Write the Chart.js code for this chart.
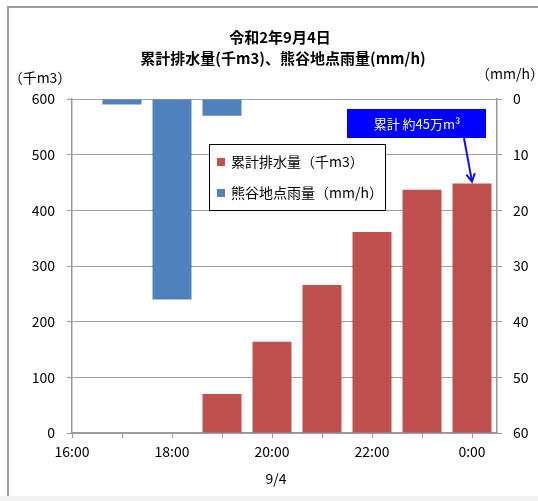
<!DOCTYPE html>
<html>
<head>
<meta charset="utf-8">
<script src="https://cdn.jsdelivr.net/npm/chart.js@4/dist/chart.umd.min.js"></script>
<style>
  html, body { margin: 0; padding: 0; background: #fff; }
  canvas { display: block; }
</style>
</head>
<body>
<canvas id="c" width="538" height="501"></canvas>
<script>
// Hours of 2020-09-04 (24 = midnight)
const hours = [16, 17, 18, 19, 20, 21, 22, 23, 24];
// Cumulative pumped drainage (thousand m3)
const drainage = [null, null, null, 70, 164, 266, 361, 437, 448];
// Hourly rainfall at Kumagaya (mm/h)
const rainfall = [0, 1, 36, 3, 0, 0, 0, 0, 0];

const titleLines = ['令和2年9月4日', '累計排水量(千m3)、熊谷地点雨量(mm/h)'];
const leftUnit = '（千m3）';
const rightUnit = '（mm/h）';
const dateLabel = '9/4';
const calloutText = '累計 約45万m³';

const RED = '#C0504D';
const BLUE = '#4F81BD';
const FONT = "'Noto Sans CJK JP', 'Liberation Sans', sans-serif";
Chart.defaults.font.family = FONT;
Chart.defaults.color = '#000';

const hourLabel = v => (v % 2 === 0 ? (v % 24) + ':00' : '');

const decor = {
  id: 'decor',
  beforeDraw(chart) {
    const ctx = chart.ctx;
    ctx.save();
    ctx.fillStyle = '#fff';
    ctx.fillRect(0, 0, chart.width, chart.height);
    ctx.fillStyle = '#f3f3f3';
    ctx.fillRect(0, 496, chart.width, chart.height - 496);
    ctx.strokeStyle = '#9a9a9a';
    ctx.lineWidth = 2;
    ctx.beginPath();
    ctx.moveTo(8, 496);
    ctx.lineTo(8, 7);
    ctx.lineTo(chart.width, 7);
    ctx.stroke();
    ctx.restore();
  },
  afterDraw(chart) {
    const ctx = chart.ctx;
    const xs = chart.scales.x, ys = chart.scales.y;
    ctx.save();
    // titles
    ctx.fillStyle = '#000';
    ctx.textAlign = 'center';
    ctx.textBaseline = 'middle';
    ctx.font = 'bold 15px ' + FONT;
    ctx.fillText(titleLines[0], 280, 37);
    ctx.fillText(titleLines[1], 283, 58);
    // axis units
    ctx.font = '14px ' + FONT;
    ctx.fillText(leftUnit, 40, 78);
    ctx.fillText(rightUnit, 510, 74);
    ctx.fillText(dateLabel, 276, 479);

    // legend
    const lx = 209, ly = 144, lw = 176, lh = 66;
    ctx.fillStyle = '#fff';
    ctx.fillRect(lx, ly, lw, lh);
    ctx.strokeStyle = '#000';
    ctx.lineWidth = 1;
    ctx.strokeRect(lx + 0.5, ly + 0.5, lw, lh);
    const items = chart.data.datasets;
    const rowsY = [162, 193];
    ctx.textAlign = 'left';
    ctx.font = '14px ' + FONT;
    items.forEach((ds, i) => {
      ctx.fillStyle = ds.backgroundColor;
      ctx.fillRect(217, rowsY[i] - 4, 8, 8);
      ctx.fillStyle = '#000';
      ctx.fillText(ds.label, 231, rowsY[i]);
    });

    // callout box with arrow to the latest cumulative value
    ctx.fillStyle = '#0000FF';
    ctx.fillRect(347, 109, 139, 29);
    ctx.fillStyle = '#fff';
    ctx.textAlign = 'center';
    ctx.font = '13px ' + FONT;
    ctx.fillText(calloutText, 417, 124);

    const last = hours.length - 1;
    const tipX = xs.getPixelForValue(hours[last]);
    const tipY = ys.getPixelForValue(drainage[last]) - 2;
    const sx = 464, sy = 138;
    ctx.strokeStyle = '#1010F0';
    ctx.lineWidth = 2;
    ctx.beginPath();
    ctx.moveTo(sx, sy);
    ctx.lineTo(tipX, tipY);
    ctx.stroke();
    const ang = Math.atan2(tipY - sy, tipX - sx);
    const ah = 9;
    ctx.beginPath();
    ctx.moveTo(tipX - ah * Math.cos(ang - 0.5), tipY - ah * Math.sin(ang - 0.5));
    ctx.lineTo(tipX, tipY);
    ctx.lineTo(tipX - ah * Math.cos(ang + 0.5), tipY - ah * Math.sin(ang + 0.5));
    ctx.stroke();
    ctx.restore();
  }
};

new Chart(document.getElementById('c'), {
  type: 'bar',
  data: {
    datasets: [
      {
        label: '累計排水量（千m3）',
        data: hours.map((h, i) => ({ x: h, y: drainage[i] })),
        backgroundColor: RED,
        yAxisID: 'y',
        grouped: false,
        barPercentage: 0.78,
        categoryPercentage: 1
      },
      {
        label: '熊谷地点雨量（mm/h）',
        data: hours.map((h, i) => ({ x: h, y: rainfall[i] })),
        backgroundColor: BLUE,
        yAxisID: 'y2',
        grouped: false,
        barPercentage: 0.78,
        categoryPercentage: 1
      }
    ]
  },
  options: {
    responsive: false,
    animation: false,
    layout: { padding: { top: 99, left: 0, right: 0, bottom: 0 } },
    plugins: {
      legend: { display: false },
      title: { display: false },
      tooltip: { enabled: false }
    },
    scales: {
      x: {
        type: 'linear',
        min: 16,
        max: 24.5,
        offset: false,
        ticks: {
          stepSize: 1,
          includeBounds: false,
          autoSkip: false,
          maxRotation: 0,
          padding: 5,
          font: { size: 14 },
          callback: hourLabel
        },
        grid: { offset: false, drawOnChartArea: false, tickLength: 5, color: '#999' },
        border: { color: '#999', width: 1.5 },
        afterFit: s => { s.height = 68; }
      },
      y: {
        position: 'left',
        min: 0,
        max: 600,
        ticks: { stepSize: 100, padding: 12, font: { size: 14 } },
        grid: { color: '#a0a0a0', tickLength: 5 },
        border: { color: '#999', width: 1.5 },
        afterFit: s => { s.width = 72; }
      },
      y2: {
        position: 'right',
        min: 0,
        max: 60,
        reverse: true,
        ticks: { stepSize: 10, padding: 11, font: { size: 14 } },
        grid: { drawOnChartArea: false, tickLength: 5, color: '#999' },
        border: { color: '#999', width: 1.5 },
        afterFit: s => { s.width = 41; }
      }
    }
  },
  plugins: [decor]
});
</script>
</body>
</html>
